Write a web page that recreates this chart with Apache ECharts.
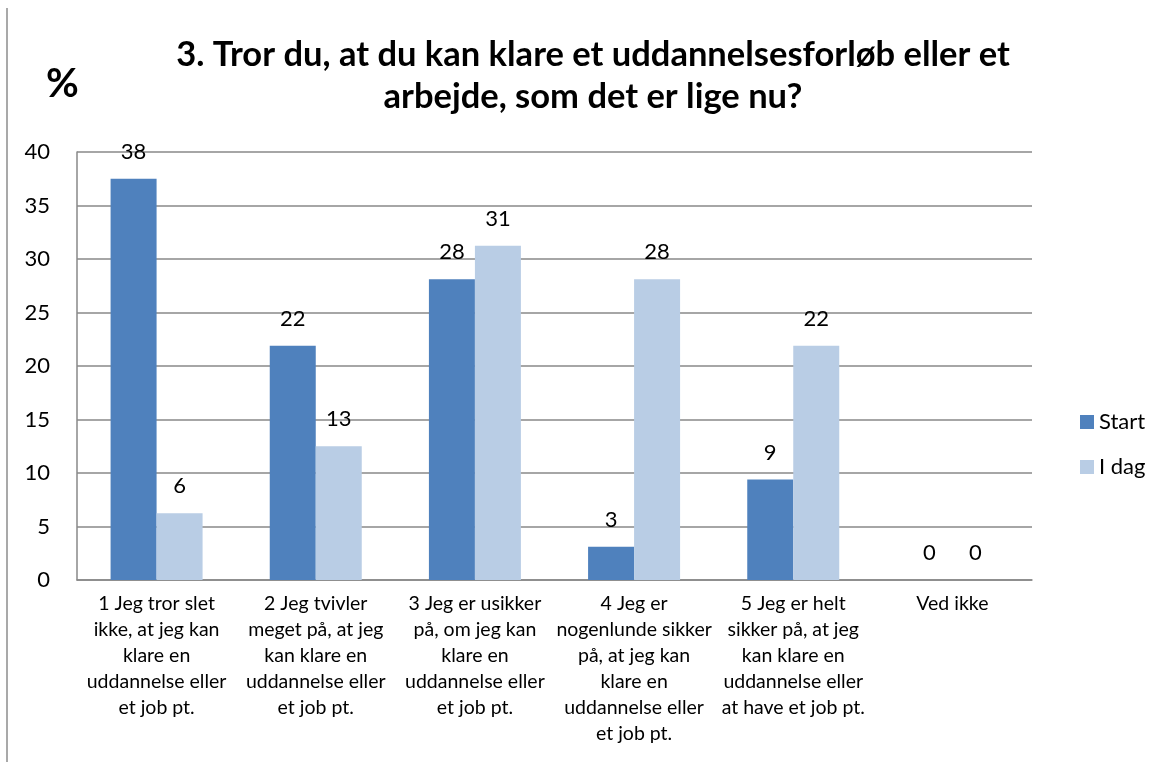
<!DOCTYPE html>
<html>
<head>
<meta charset="utf-8">
<script src="https://cdn.jsdelivr.net/npm/echarts@6/dist/echarts.min.js"></script>
<style>html,body{margin:0;padding:0;background:#fff}#c{width:1171px;height:762px}</style>
</head>
<body>
<div id="c"></div>
<script>
var categories = [
  "1 Jeg tror slet\nikke, at jeg kan\nklare en\nuddannelse eller\net job pt.",
  "2 Jeg tvivler\nmeget på, at jeg\nkan klare en\nuddannelse eller\net job pt.",
  "3 Jeg er usikker\npå, om jeg kan\nklare en\nuddannelse eller\net job pt.",
  "4 Jeg er\nnogenlunde sikker\npå, at jeg kan\nklare en\nuddannelse eller\net job pt.",
  "5 Jeg er helt\nsikker på, at jeg\nkan klare en\nuddannelse eller\nat have et job pt.",
  "Ved ikke"
];
var startValues = [37.5, 21.9, 28.1, 3.1, 9.4, 0];
var idagValues = [6.25, 12.5, 31.25, 28.1, 21.9, 0];
var seriesNames = ["Start", "I dag"];
var titleText = "3. Tror du, at du kan klare et uddannelsesforløb eller et\narbejde, som det er lige nu?";

var FONT = "Lato, 'Open Sans', sans-serif";
var chart = echarts.init(document.getElementById('c'));
var labelCfg = {
  show: true, position: 'top', distance: 16,
  fontFamily: FONT, fontSize: 22, color: '#000',
  formatter: function (p) { return Math.round(p.value); }
};
chart.setOption({
  animation: false,
  backgroundColor: '#fff',
  title: {
    text: titleText, left: 588, top: 29, textAlign: 'center',
    textStyle: { fontFamily: FONT, fontSize: 34.5, fontWeight: 'bold', color: '#000', lineHeight: 42 }
  },
  graphic: [
    { type: 'text', left: 46, top: 64, style: { text: '%', font: "bold 40px " + FONT, fill: '#000' } },
    { type: 'line', shape: { x1: 7, y1: 8, x2: 7, y2: 762 }, style: { stroke: '#8c8c8c', lineWidth: 1.5 } }
  ],
  legend: {
    orient: 'vertical', left: 1075, top: 406, itemWidth: 14, itemHeight: 14, itemGap: 23,
    icon: 'rect',
    textStyle: { fontFamily: FONT, fontSize: 22, color: '#000' },
    data: seriesNames
  },
  grid: { left: 77, right: 139, top: 152, bottom: 182 },
  xAxis: {
    type: 'category', data: categories,
    axisLine: { lineStyle: { color: '#888', width: 1.5 } },
    axisTick: { show: false },
    axisLabel: { interval: 0, fontFamily: FONT, fontSize: 19.5, lineHeight: 26, color: '#000', margin: 11 }
  },
  yAxis: {
    type: 'value', min: 0, max: 40, interval: 5,
    axisLine: { show: true, lineStyle: { color: '#888', width: 1.5 } },
    axisTick: { show: false },
    splitLine: { lineStyle: { color: '#888', width: 1.5 } },
    axisLabel: { fontFamily: FONT, fontSize: 22, color: '#000', margin: 27 }
  },
  series: [
    { name: seriesNames[0], type: 'bar', data: startValues, barWidth: 46, barGap: '0%',
      itemStyle: { color: '#4F81BD' }, label: labelCfg },
    { name: seriesNames[1], type: 'bar', data: idagValues, barWidth: 46, barGap: '0%',
      itemStyle: { color: '#B9CDE5' }, label: labelCfg }
  ]
});
</script>
</body>
</html>
